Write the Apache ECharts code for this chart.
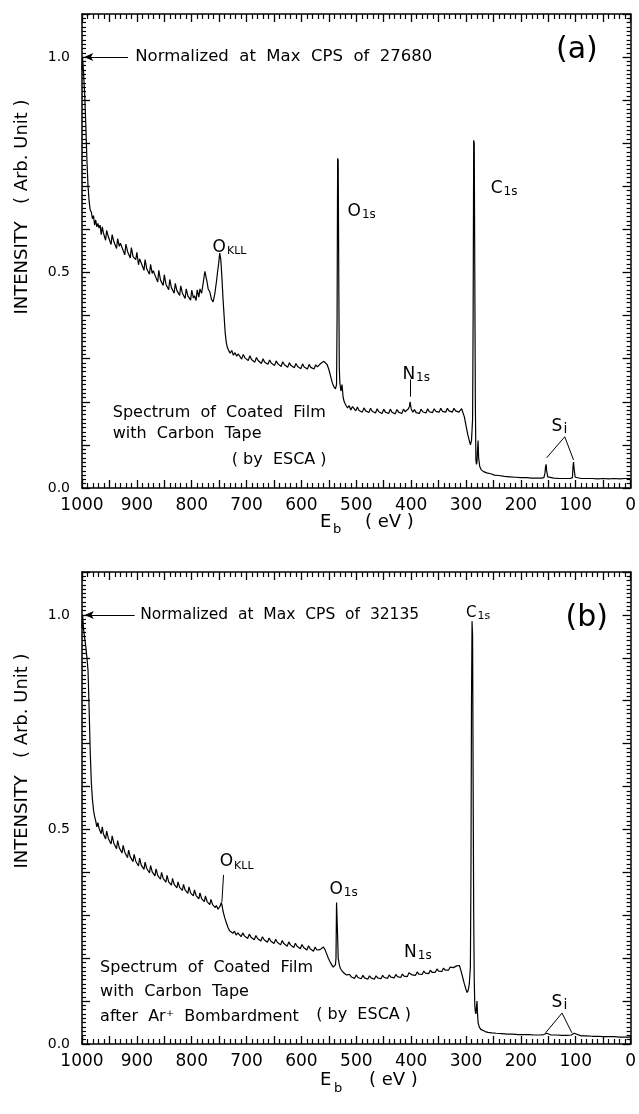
<!DOCTYPE html>
<html><head><meta charset="utf-8">
<script src="https://cdn.jsdelivr.net/npm/echarts@6/dist/echarts.min.js"></script>
<style>html,body{margin:0;padding:0;background:#fff}#c{width:639px;height:1114px}</style>
</head><body><div id="c"></div>
<script>
const FONT = '"DejaVu Sans", sans-serif';
const xTickLabels = [1000, 900, 800, 700, 600, 500, 400, 300, 200, 100, 0];
const yTickLabels = [0.0, 0.5, 1.0];

// Panel (a): [binding energy eV, normalized intensity]
const specA = [
[1000,0.97],[999,1.0],[997,0.96],[995,0.91],[993,0.84],[991,0.76],[989,0.70],[987,0.665],[985,0.645],[983,0.64],
[981,0.625],[979,0.632],[977,0.61],[975,0.622],[973,0.606],[971,0.614],[969,0.603],[967,0.61],[965,0.588],[963,0.606],
[961,0.592],[959,0.595],[957,0.575],[955,0.598],[952,0.583],[950,0.586],[947,0.565],[945,0.588],[942,0.572],[940,0.574],
[937,0.556],[935,0.579],[932,0.561],[930,0.568],[927,0.558],[925,0.56],[922,0.541],[920,0.566],[917,0.549],[915,0.551],
[912,0.534],[910,0.558],[907,0.537],[905,0.541],[902,0.53],[900,0.547],[897,0.518],[895,0.532],[892,0.522],[890,0.524],
[887,0.505],[885,0.53],[882,0.509],[880,0.512],[877,0.496],[875,0.519],[872,0.498],[870,0.504],[867,0.494],[865,0.497],
[862,0.478],[860,0.505],[857,0.483],[855,0.487],[852,0.47],[850,0.495],[847,0.473],[845,0.476],[842,0.46],[840,0.484],
[837,0.465],[835,0.468],[832,0.452],[830,0.475],[827,0.458],[825,0.46],[822,0.447],[820,0.469],[817,0.452],[815,0.455],
[812,0.44],[810,0.462],[807,0.446],[805,0.45],[802,0.436],[800,0.459],[797,0.441],[795,0.446],[792,0.435],[790,0.46],
[787,0.443],[785,0.462],[782,0.452],[780,0.468],[778,0.485],[776,0.503],[774,0.49],[772,0.478],[770,0.462],[767,0.455],
[764,0.438],[761,0.432],[758,0.45],[755,0.478],[753,0.5],[751,0.52],[749,0.545],[747,0.53],[745,0.49],[743,0.44],
[741,0.40],[739,0.36],[737,0.338],[735,0.326],[733,0.32],[730,0.313],[727,0.319],[724,0.308],[721,0.314],[718,0.306],
[715,0.311],[712,0.308],[709,0.299],[706,0.31],[703,0.302],[700,0.304],[697,0.296],[694,0.307],[691,0.298],[688,0.3],
[685,0.292],[682,0.303],[679,0.296],[676,0.298],[673,0.289],[670,0.3],[667,0.292],[664,0.295],[661,0.287],[658,0.297],
[655,0.29],[652,0.292],[649,0.284],[646,0.295],[643,0.288],[640,0.29],[637,0.282],[634,0.293],[631,0.286],[628,0.288],
[625,0.28],[622,0.291],[619,0.284],[616,0.286],[613,0.279],[610,0.289],[607,0.282],[604,0.285],[601,0.277],[598,0.288],
[595,0.281],[592,0.283],[589,0.276],[586,0.287],[583,0.28],[580,0.283],[577,0.276],[574,0.286],[571,0.281],[568,0.285],
[565,0.289],[562,0.291],[559,0.294],[556,0.292],[553,0.286],[550,0.275],[547,0.26],[544,0.245],[541,0.235],[538,0.23],
[536,0.24],[535,0.40],[534,0.765],[533,0.76],[532,0.50],[531,0.28],[530,0.245],[528,0.225],[526,0.24],[524,0.21],
[522,0.20],[519,0.192],[516,0.186],[513,0.191],[510,0.181],[507,0.189],[504,0.184],[501,0.179],[498,0.188],[495,0.18],
[492,0.183],[489,0.176],[486,0.186],[483,0.179],[480,0.181],[477,0.175],[474,0.185],[471,0.178],[468,0.18],[465,0.174],
[462,0.184],[459,0.177],[456,0.18],[453,0.173],[450,0.183],[447,0.176],[444,0.179],[441,0.173],[438,0.183],[435,0.176],
[432,0.179],[429,0.172],[426,0.182],[423,0.176],[420,0.179],[417,0.173],[414,0.183],[411,0.177],[408,0.18],[405,0.184],
[403,0.19],[402,0.20],[400,0.184],[397,0.176],[394,0.182],[391,0.175],[388,0.179],[385,0.173],[382,0.183],[379,0.177],
[376,0.18],[373,0.174],[370,0.184],[367,0.177],[364,0.18],[361,0.175],[358,0.184],[355,0.178],[352,0.181],[349,0.176],
[346,0.185],[343,0.178],[340,0.181],[337,0.176],[334,0.185],[331,0.179],[328,0.182],[325,0.176],[322,0.185],[319,0.179],
[316,0.181],[313,0.176],[311,0.18],[308,0.184],[306,0.18],[303,0.165],[300,0.145],[297,0.125],[294,0.11],[292,0.10],
[290,0.11],[288,0.16],[287,0.40],[286,0.807],[285,0.80],[284,0.50],[283,0.20],[282,0.065],[281,0.055],[280,0.06],
[279,0.09],[278,0.11],[277,0.07],[275,0.05],[272,0.042],[268,0.038],[262,0.035],[255,0.033],[248,0.03],[240,0.029],
[230,0.027],[220,0.026],[210,0.025],[200,0.024],[190,0.024],[180,0.023],[170,0.023],[162,0.023],[158,0.024],[156,0.035],
[155,0.05],[154,0.055],[153,0.04],[151,0.026],[148,0.023],[140,0.023],[130,0.022],[120,0.022],[110,0.022],[106,0.024],
[105,0.05],[104,0.06],[103,0.045],[101,0.025],[98,0.023],[90,0.022],[80,0.022],[70,0.022],[60,0.021],[50,0.022],
[40,0.021],[30,0.022],[20,0.021],[10,0.022],[0,0.022]
];

// Panel (b): [binding energy eV, normalized intensity]
const specB = [
[1000,0.97],[999,1.0],[997,0.965],[995,0.945],[993,0.925],[991,0.90],[989,0.87],[987,0.78],[985,0.68],[983,0.61],
[981,0.57],[979,0.545],[977,0.53],[975,0.52],[973,0.506],[971,0.516],[969,0.503],[967,0.505],[965,0.49],[963,0.506],
[961,0.49],[959,0.493],[957,0.478],[955,0.496],[952,0.479],[950,0.482],[947,0.466],[945,0.485],[942,0.468],[940,0.47],
[937,0.455],[935,0.474],[932,0.457],[930,0.46],[927,0.445],[925,0.463],[922,0.447],[920,0.449],[917,0.434],[915,0.452],
[912,0.436],[910,0.439],[907,0.425],[905,0.442],[902,0.426],[900,0.428],[897,0.415],[895,0.433],[892,0.417],[890,0.42],
[887,0.407],[885,0.424],[882,0.409],[880,0.411],[877,0.399],[875,0.416],[872,0.401],[870,0.403],[867,0.392],[865,0.408],
[862,0.393],[860,0.396],[857,0.384],[855,0.4],[852,0.386],[850,0.388],[847,0.377],[845,0.393],[842,0.378],[840,0.381],
[837,0.37],[835,0.386],[832,0.372],[830,0.374],[827,0.364],[825,0.378],[822,0.365],[820,0.368],[817,0.358],[815,0.372],
[812,0.359],[810,0.361],[807,0.351],[805,0.366],[802,0.352],[800,0.355],[797,0.345],[795,0.359],[792,0.346],[790,0.348],
[787,0.338],[785,0.352],[782,0.339],[780,0.342],[777,0.332],[775,0.345],[772,0.332],[770,0.334],[767,0.325],[765,0.337],
[762,0.325],[760,0.327],[757,0.318],[755,0.323],[752,0.314],[750,0.318],[748,0.322],[746,0.33],[745,0.325],[743,0.31],
[740,0.295],[737,0.283],[734,0.272],[731,0.264],[728,0.26],[725,0.258],[722,0.263],[719,0.254],[716,0.259],[713,0.256],
[710,0.25],[707,0.259],[704,0.252],[701,0.253],[698,0.246],[695,0.256],[692,0.249],[689,0.25],[686,0.243],[683,0.253],
[680,0.246],[677,0.247],[674,0.24],[671,0.25],[668,0.243],[665,0.244],[662,0.237],[659,0.247],[656,0.24],[653,0.241],
[650,0.234],[647,0.244],[644,0.237],[641,0.238],[638,0.231],[635,0.241],[632,0.234],[629,0.235],[626,0.228],[623,0.238],
[620,0.231],[617,0.232],[614,0.225],[611,0.235],[608,0.228],[605,0.229],[602,0.222],[599,0.232],[596,0.225],[593,0.226],
[590,0.219],[587,0.229],[584,0.222],[581,0.223],[578,0.216],[575,0.226],[572,0.219],[569,0.218],[566,0.22],[563,0.223],
[560,0.226],[557,0.22],[554,0.21],[551,0.20],[548,0.192],[545,0.185],[542,0.179],[540,0.177],[538,0.185],[537,0.20],
[536,0.33],[535,0.331],[534,0.25],[533,0.20],[531,0.185],[529,0.176],[527,0.172],[524,0.167],[521,0.163],[518,0.161],
[515,0.157],[512,0.162],[509,0.156],[506,0.158],[503,0.153],[500,0.161],[497,0.155],[494,0.157],[491,0.152],[488,0.16],
[485,0.154],[482,0.156],[479,0.151],[476,0.159],[473,0.154],[470,0.156],[467,0.151],[464,0.159],[461,0.154],[458,0.156],
[455,0.152],[452,0.16],[449,0.155],[446,0.157],[443,0.153],[440,0.161],[437,0.156],[434,0.158],[431,0.154],[428,0.162],
[425,0.157],[422,0.159],[419,0.155],[416,0.163],[413,0.158],[410,0.16],[407,0.157],[404,0.166],[401,0.168],[398,0.161],
[395,0.165],[392,0.16],[389,0.168],[386,0.163],[383,0.165],[380,0.162],[377,0.17],[374,0.165],[371,0.167],[368,0.164],
[365,0.172],[362,0.167],[359,0.17],[356,0.167],[353,0.175],[350,0.17],[347,0.172],[344,0.169],[341,0.177],[338,0.172],
[335,0.175],[332,0.172],[329,0.179],[326,0.175],[323,0.178],[320,0.177],[317,0.182],[314,0.185],[312,0.183],[309,0.17],
[306,0.155],[303,0.14],[300,0.127],[298,0.12],[296,0.125],[294,0.14],[292,0.18],[291,0.40],[290,0.80],[289,0.985],
[288,0.95],[287,0.60],[286,0.30],[285,0.15],[284,0.09],[283,0.075],[282,0.07],[281,0.085],[280,0.10],[279,0.07],
[278,0.05],[276,0.04],[273,0.034],[270,0.031],[265,0.029],[260,0.027],[253,0.026],[245,0.025],[235,0.024],[225,0.023],
[215,0.023],[205,0.022],[195,0.022],[185,0.022],[175,0.021],[165,0.021],[158,0.022],[155,0.024],[153,0.025],[150,0.022],
[145,0.021],[135,0.021],[125,0.02],[115,0.02],[108,0.021],[105,0.024],[103,0.025],[100,0.021],[90,0.019],[80,0.019],
[70,0.018],[60,0.018],[50,0.017],[40,0.017],[30,0.017],[20,0.016],[10,0.016],[0,0.016]
];

const xFmt = v => xTickLabels.indexOf(Math.round(v)) >= 0 && Math.abs(v - Math.round(v)) < 1e-6 ? String(Math.round(v)) : '';
const yFmt = v => yTickLabels.some(t => Math.abs(t - v) < 1e-6) ? v.toFixed(1) : '';

function xAx(grid, pos, labels) {
  return {
    type: 'value', gridIndex: grid, position: pos, min: 0, max: 1000, interval: 50, inverse: true,
    axisLine: { show: true, onZero: false, lineStyle: { color: '#000', width: 1.5 } },
    axisTick: { show: true, inside: true, length: 8, lineStyle: { color: '#000', width: 1.3 } },
    minorTick: { show: true, splitNumber: 5, length: 5, lineStyle: { color: '#000', width: 1.2 } },
    splitLine: { show: false }, minorSplitLine: { show: false },
    axisLabel: { show: labels, margin: 9, color: '#000', fontSize: 17, fontFamily: FONT, formatter: xFmt, showMinLabel: true, showMaxLabel: true }
  };
}
function yAx(grid, pos, labels) {
  return {
    type: 'value', gridIndex: grid, position: pos, min: 0, max: 1.1, interval: 0.1,
    axisLine: { show: true, onZero: false, lineStyle: { color: '#000', width: 1.5 } },
    axisTick: { show: true, inside: true, length: 8, lineStyle: { color: '#000', width: 1.3 } },
    minorTick: { show: true, splitNumber: 10, length: 4, lineStyle: { color: '#000', width: 1.2 } },
    splitLine: { show: false }, minorSplitLine: { show: false },
    axisLabel: { show: labels, margin: 12, color: '#000', fontSize: 14, fontFamily: FONT, formatter: yFmt }
  };
}

const lineStyleAnn = { color: '#000', width: 1, type: 'solid' };
function ml(pairs) {
  return {
    silent: true, animation: false, symbol: ['none', 'none'], lineStyle: lineStyleAnn,
    label: { show: false }, emphasis: { disabled: true },
    data: pairs.map(p => [
      { coord: p[0], symbol: p[2] ? p[2] : 'none', symbolSize: [6, 9] },
      { coord: p[1], symbol: p[3] ? p[3] : 'none', symbolSize: [6, 9] }
    ])
  };
}

const option = {
  animation: false,
  backgroundColor: '#fff',
  grid: [
    { left: 82, right: 7, top: 14, height: 474 },
    { left: 82, right: 7, top: 572, height: 472 }
  ],
  xAxis: [xAx(0, 'bottom', true), xAx(0, 'top', false), xAx(1, 'bottom', true), xAx(1, 'top', false)],
  yAxis: [yAx(0, 'left', true), yAx(0, 'right', false), yAx(1, 'left', true), yAx(1, 'right', false)],
  series: [
    {
      type: 'line', xAxisIndex: 0, yAxisIndex: 0, data: specA, showSymbol: false, symbol: 'none',
      lineStyle: { color: '#000', width: 1.2 }, animation: false, silent: true,
      markLine: ml([
        [[996, 1.0], [916, 1.0], 'arrow', 'none'],
        [[402, 0.252], [402, 0.212]],
        [[120, 0.119], [153, 0.07]],
        [[120, 0.119], [104, 0.065]]
      ])
    },
    {
      type: 'line', xAxisIndex: 2, yAxisIndex: 2, data: specB, showSymbol: false, symbol: 'none',
      lineStyle: { color: '#000', width: 1.2 }, animation: false, silent: true,
      markLine: ml([
        [[995, 1.0], [904, 1.0], 'arrow', 'none'],
        [[742, 0.394], [745, 0.331]],
        [[125, 0.072], [155, 0.026]],
        [[125, 0.072], [107, 0.026]]
      ])
    }
  ]
};

const chart = echarts.init(document.getElementById('c'), null, { renderer: 'canvas' });
chart.setOption(option);

const mctx = document.createElement('canvas').getContext('2d');
function measure(s, size) { mctx.font = size + 'px ' + FONT; return mctx.measureText(s).width; }
function P(si, eV, I) { return chart.convertToPixel({ seriesIndex: si }, [eV, I]); }
function T(x, y, s, size, align, rot) {
  return { type: 'text', x: x, y: y, rotation: rot || 0, silent: true,
    style: { text: s, font: size + 'px ' + FONT, fill: '#000', align: align || 'left', verticalAlign: 'middle' } };
}
function subLabel(si, eV, I, main, sub, size, subSize, drop) {
  const p = P(si, eV, I);
  const w = measure(main, size);
  return [T(p[0], p[1], main, size), T(p[0] + w + 1, p[1] + drop, sub, subSize)];
}
function txtAt(si, eV, I, s, size, align) { const p = P(si, eV, I); return T(p[0], p[1], s, size, align); }

const g = [];
// panel (a)
g.push(txtAt(0, 903, 1.0, 'Normalized  at  Max  CPS  of  27680', 16.5));
g.push(txtAt(0, 98, 1.016, '(a)', 30, 'center'));
g.push(...subLabel(0, 516, 0.641, 'O', '1s', 17, 12, 3));
g.push(...subLabel(0, 255, 0.695, 'C', '1s', 17, 12, 3));
g.push(...subLabel(0, 762, 0.559, 'O', 'KLL', 17, 11, 4));
g.push(...subLabel(0, 416, 0.263, 'N', '1s', 17, 12, 3));
g.push(...subLabel(0, 144, 0.142, 'S', 'i', 17, 14, 3));
g.push(txtAt(0, 944, 0.175, 'Spectrum  of  Coated  Film', 16));
g.push(txtAt(0, 944, 0.126, 'with  Carbon  Tape', 16));
g.push(txtAt(0, 727, 0.065, '( by  ESCA )', 16));
// panel (b)
g.push(txtAt(1, 894, 1.0, 'Normalized  at  Max  CPS  of  32135', 15.5));
g.push(txtAt(1, 80, 0.993, '(b)', 30, 'center'));
g.push(...subLabel(1, 300, 1.005, 'C', '1s', 15, 11, 3));
g.push(...subLabel(1, 749, 0.424, 'O', 'KLL', 17, 11, 4));
g.push(...subLabel(1, 549, 0.359, 'O', '1s', 17, 12, 3));
g.push(...subLabel(1, 413, 0.212, 'N', '1s', 17, 12, 3));
g.push(...subLabel(1, 144, 0.096, 'S', 'i', 17, 14, 3));
g.push(txtAt(1, 967, 0.177, 'Spectrum  of  Coated  Film', 16));
g.push(txtAt(1, 967, 0.121, 'with  Carbon  Tape', 16));
g.push(txtAt(1, 967, 0.063, 'after  Ar\u207A  Bombardment', 16));
g.push(txtAt(1, 573, 0.068, '( by  ESCA )', 16));
// axis titles
g.push(T(22, 207, 'INTENSITY   ( Arb. Unit )', 18, 'center', Math.PI / 2));
g.push(T(22, 761, 'INTENSITY   ( Arb. Unit )', 18, 'center', Math.PI / 2));
g.push(T(320, 522, 'E', 18), T(333, 530, 'b', 13), T(365, 522, '( eV )', 18));
g.push(T(320, 1080, 'E', 18), T(334, 1089, 'b', 13), T(369, 1080, '( eV )', 18));

chart.setOption({ graphic: g });
</script>
</body></html>
